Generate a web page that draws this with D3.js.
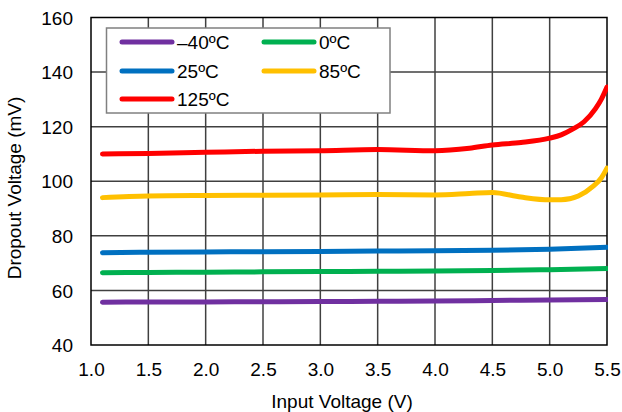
<!DOCTYPE html>
<html><head><meta charset="utf-8">
<script src="https://cdn.jsdelivr.net/npm/d3@7"></script>
<style>body{margin:0;background:#fff}text{font-family:Arial,"Liberation Sans",sans-serif;fill:#000}</style>
</head><body>
<svg id="c" width="622" height="412"></svg>
<script>
const xTicks = [1.0,1.5,2.0,2.5,3.0,3.5,4.0,4.5,5.0,5.5];
const yTicks = [40,60,80,100,120,140,160];
const seriesNames = ["–40ºC","0ºC","25ºC","85ºC","125ºC"];
const seriesColors = ["#7030A0","#00B050","#0070C0","#FFC000","#FF0000"];
const vinA = [1.1,1.5,2.0,2.5,3.0,3.5,4.0,4.5,5.0,5.5];
const vm40 = [55.7,55.75,55.8,55.85,55.9,56.0,56.1,56.3,56.5,56.7];
const v0   = [66.5,66.6,66.7,66.8,66.9,67.0,67.1,67.3,67.6,68.0];
const v25  = [73.8,74.0,74.1,74.2,74.3,74.4,74.5,74.7,75.1,75.8];
const vin85 = [1.1,1.5,2.0,2.5,3.0,3.5,4.0,4.3,4.5,4.75,5.0,5.1,5.25,5.38,5.45,5.5];
const v85   = [94.0,94.6,94.8,94.9,95.0,95.1,95.0,95.5,95.9,94.2,93.2,93.2,94.6,98.2,101.2,104.8];
const vin125 = [1.1,1.5,2.0,2.5,3.0,3.5,4.0,4.3,4.5,4.75,5.0,5.1,5.2,5.3,5.4,5.45,5.5];
const v125   = [110.0,110.2,110.6,111.0,111.2,111.6,111.2,112.1,113.3,114.2,115.8,117.0,119.1,121.8,126.6,130.0,134.5];

const svg = d3.select("#c");
const L=91, R=607, T=17.5, B=345;
const x = d3.scaleLinear().domain([1.0,5.5]).range([L,R]);
const y = d3.scaleLinear().domain([40,160]).range([B,T]);

// grid
const g = svg.append("g");
g.selectAll(".gx").data(xTicks.slice(1,-1)).enter().append("line")
 .attr("x1",d=>x(d)).attr("x2",d=>x(d)).attr("y1",T).attr("y2",B)
 .attr("stroke","#404040").attr("stroke-width",1.5);
g.selectAll(".gy").data(yTicks.slice(1,-1)).enter().append("line")
 .attr("y1",d=>y(d)).attr("y2",d=>y(d)).attr("x1",L).attr("x2",R)
 .attr("stroke","#404040").attr("stroke-width",1.5);
g.append("rect").attr("x",L).attr("y",T).attr("width",R-L).attr("height",B-T)
 .attr("fill","none").attr("stroke","#000").attr("stroke-width",1.5);

// axes labels
const xa = d3.axisBottom(x).tickValues(xTicks).tickFormat(d3.format(".1f")).tickSize(0).tickPadding(0);
const xg = svg.append("g").attr("transform",`translate(0,${B})`).call(xa);
xg.select(".domain").remove();
xg.selectAll("text").attr("y",31).attr("dy",0).style("font-size","19px").style("font-family","Arial, 'Liberation Sans'");
const ya = d3.axisLeft(y).tickValues(yTicks).tickSize(0).tickPadding(0);
const yg = svg.append("g").attr("transform",`translate(${L},0)`).call(ya);
yg.select(".domain").remove();
yg.selectAll("text").attr("x",-18).attr("dy","0.35em").style("font-size","19px").style("font-family","Arial, 'Liberation Sans'");

svg.append("text").attr("x",342).attr("y",408).attr("text-anchor","middle").style("font-size","19px").text("Input Voltage (V)");
svg.append("text").attr("transform","translate(21,188) rotate(-90)").attr("text-anchor","middle").style("font-size","19px").text("Dropout Voltage (mV)");

// lines
svg.append("clipPath").attr("id","pc").append("rect").attr("x",L).attr("y",T).attr("width",R-L+1).attr("height",B-T);
const series = [
 {x:vinA,y:vm40},{x:vinA,y:v0},{x:vinA,y:v25},{x:vin85,y:v85},{x:vin125,y:v125}
];
const line = d3.line().x(d=>x(d[0])).y(d=>y(d[1])).curve(d3.curveMonotoneX);
series.forEach((s,i)=>{
  svg.append("path").datum(s.x.map((v,j)=>[v,s.y[j]]))
   .attr("d",line).attr("fill","none").attr("stroke",seriesColors[i])
   .attr("stroke-width",5).attr("stroke-linecap","round").attr("clip-path","url(#pc)");
});

// legend
svg.append("rect").attr("x",106.5).attr("y",28).attr("width",283.5).attr("height",85)
 .attr("fill","#fff").attr("stroke","#808080").attr("stroke-width",1.5);
const legPos = [[120,42],[262,42],[120,71],[262,71],[120,99]];
seriesNames.forEach((name,k)=>{
  const [lx,ly]=legPos[k];
  svg.append("line").attr("x1",lx+2).attr("x2",lx+52).attr("y1",ly).attr("y2",ly)
   .attr("stroke",seriesColors[k]).attr("stroke-width",5).attr("stroke-linecap","round");
  svg.append("text").attr("x",lx+57).attr("y",ly).attr("dy","0.35em").style("font-size","19px").text(name);
});
</script>
</body></html>
